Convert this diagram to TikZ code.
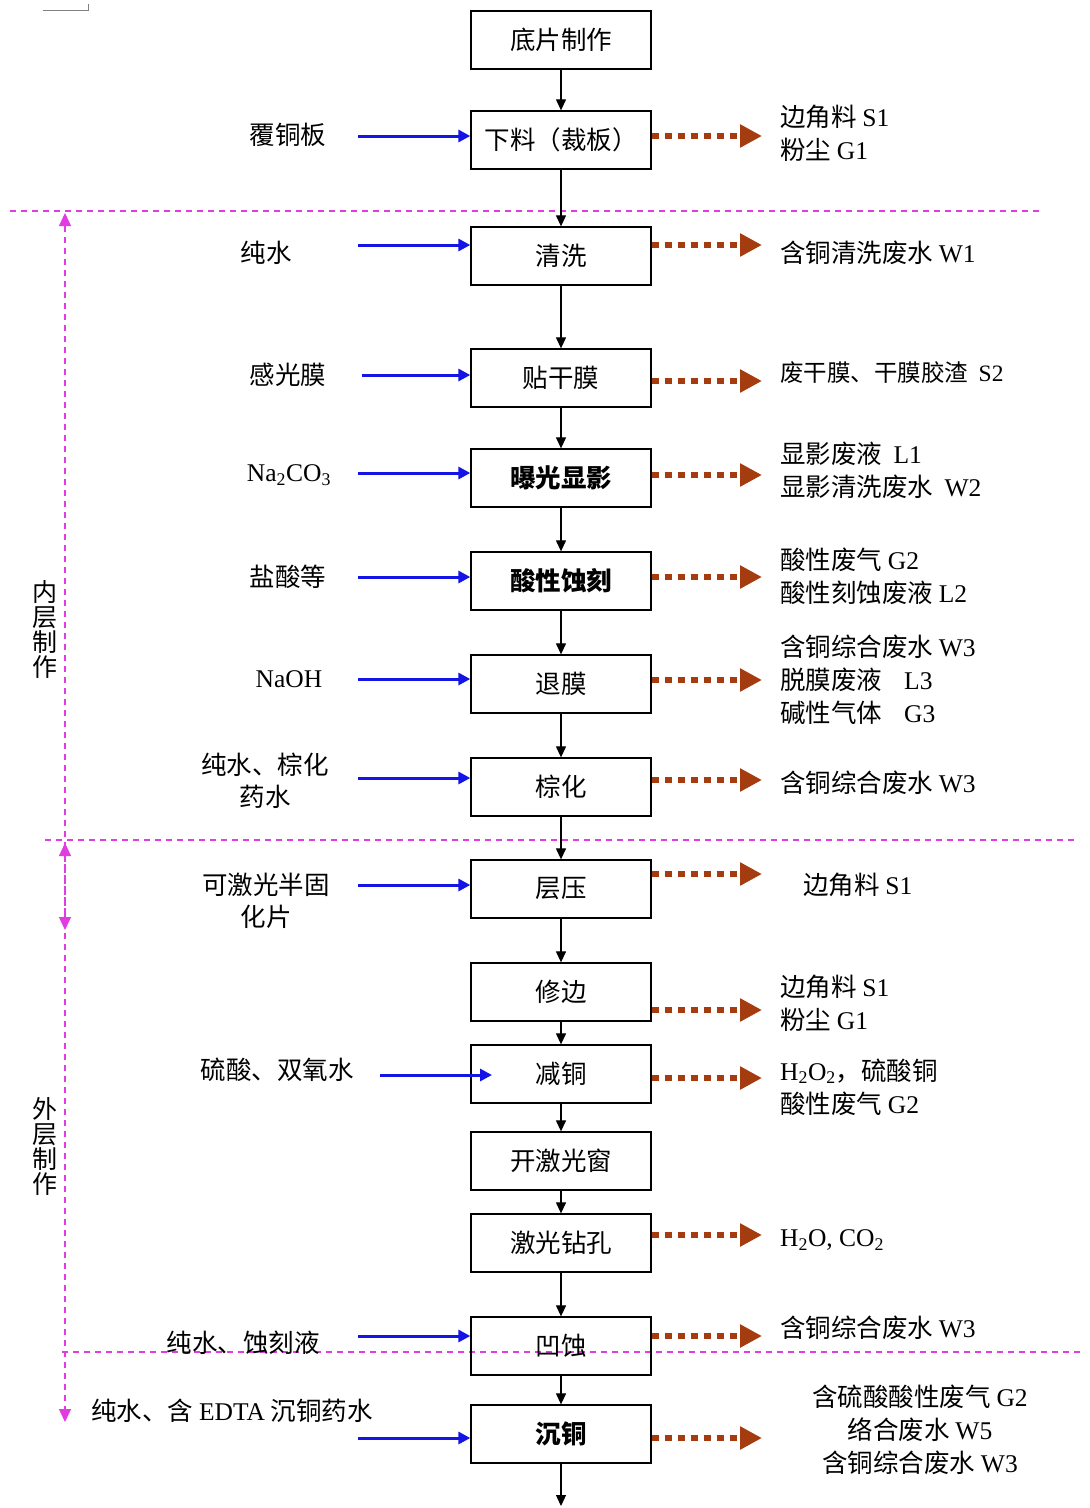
\documentclass[tikz,border=0pt]{standalone}
\usepackage{fontspec}
\setmainfont{Noto Sans CJK SC}
\newfontfamily\tnr{Liberation Serif}
\usetikzlibrary{arrows.meta}
\definecolor{inblue}{RGB}{20,20,230}
\definecolor{outbrown}{RGB}{165,60,15}
\definecolor{mag}{RGB}{225,60,225}
\newcommand\sub[1]{\textsubscript{#1}}
\begin{document}
\begin{tikzpicture}[x=1pt,y=-1pt,
  proc/.style={draw=black, line width=1.3pt, minimum width=180pt, minimum height=58pt, inner sep=0, font=\fontsize{25.5}{28}\selectfont},
  bproc/.style={proc, font=\fontsize{25.5}{28}\selectfont\bfseries},
  lab/.style={font=\fontsize{25.5}{33}\selectfont, align=left, inner sep=0, anchor=west},
  clab/.style={font=\fontsize{25.5}{33}\selectfont, align=center, inner sep=0},
  inlab/.style={font=\fontsize{25.5}{32}\selectfont, align=center, inner sep=0},
  vlab/.style={font=\fontsize{25}{25}\selectfont, align=center, inner sep=0},
  flow/.style={-{Triangle[length=11pt,width=10pt]}, line width=1.2pt},
  inarr/.style={-{Triangle[length=12pt,width=12pt]}, inblue, line width=3pt},
  outarr/.style={-{Triangle[length=22pt,width=22pt]}, outbrown, line width=6.5pt, dash pattern=on 7pt off 6pt},
  sep/.style={mag, line width=1.2pt, dash pattern=on 6pt off 5pt},
  vsep/.style={sep, {Triangle[length=13pt,width=12pt]}-{Triangle[length=13pt,width=12pt]}},
]
\useasboundingbox (0,0) rectangle (1090,1508);

% top-left mark
\draw[gray, line width=0.8pt] (43,10) -- (88,10) -- (88,4);

% separators
\coordinate (s1a) at (10,211);  \coordinate (s1b) at (1040,211);
\coordinate (s2a) at (45,840);  \coordinate (s2b) at (1075,840);
\coordinate (s3a) at (62,1352); \coordinate (s3b) at (1085,1352);
\draw[sep] (s1a) -- (s1b);
\draw[sep] (s2a) -- (s2b);
\draw[sep] (s3a) -- (s3b);
\coordinate (v1a) at (65,213);  \coordinate (v1b) at (65,930);
\coordinate (v2a) at (65,843);  \coordinate (v2b) at (65,1422);
\draw[vsep] (v1a) -- (v1b);
\draw[vsep] (v2a) -- (v2b);
\node[vlab] (inner) at (45,629) {内\\层\\制\\作};
\node[vlab] (outer) at (45,1146) {外\\层\\制\\作};

% process boxes
\node[proc]  (b1)  at (561,40)   {底片制作};
\node[proc]  (b2)  at (561,140)  {下料（裁板）};
\node[proc]  (b3)  at (561,256)  {清洗};
\node[proc]  (b4)  at (561,378)  {贴干膜};
\node[bproc] (b5)  at (561,478)  {曝光显影};
\node[bproc] (b6)  at (561,581)  {酸性蚀刻};
\node[proc]  (b7)  at (561,684)  {退膜};
\node[proc]  (b8)  at (561,787)  {棕化};
\node[proc]  (b9)  at (561,889)  {层压};
\node[proc]  (b10) at (561,992)  {修边};
\node[proc]  (b11) at (561,1074) {减铜};
\node[proc]  (b12) at (561,1161) {开激光窗};
\node[proc]  (b13) at (561,1243) {激光钻孔};
\node[proc]  (b14) at (561,1346) {凹蚀};
\node[bproc] (b15) at (561,1434) {沉铜};
\coordinate (end) at (561,1506);

\foreach \a/\b in {b1/b2,b2/b3,b3/b4,b4/b5,b5/b6,b6/b7,b7/b8,b8/b9,b9/b10,b10/b11,b11/b12,b12/b13,b13/b14,b14/b15}
  \draw[flow] (\a.south) -- (\b.north);
\draw[flow] (b15.south) -- (end);

% inputs
\node[inlab] (l2)  at (288,135)  {覆铜板};
\node[inlab] (l3)  at (266,253)  {纯水};
\node[inlab] (l4)  at (288,375)  {感光膜};
\node[inlab] (l5)  at (289,475)  {\tnr Na\sub{2}CO\sub{3}};
\node[inlab] (l6)  at (288,577)  {盐酸等};
\node[inlab] (l7)  at (289,679)  {\tnr NaOH};
\node[inlab] (l8)  at (265,781)  {纯水、棕化\\药水};
\node[inlab] (l9)  at (266,901)  {可激光半固\\化片};
\node[inlab] (l11) at (277,1070) {硫酸、双氧水};
\node[inlab] (l14) at (243,1343) {纯水、蚀刻液};
\node[inlab] (l15) at (232,1411) {纯水、含 {\tnr EDTA} 沉铜药水};

\coordinate (i2)  at (358,136);
\coordinate (i3)  at (358,245);
\coordinate (i4)  at (362,375);
\coordinate (i5)  at (358,473);
\coordinate (i6)  at (358,577);
\coordinate (i7)  at (358,679);
\coordinate (i8)  at (358,778);
\coordinate (i9)  at (358,885);
\coordinate (i11) at (380,1075);
\coordinate (i11e) at (492,1075);
\coordinate (i14) at (358,1336);
\coordinate (i15) at (358,1438);
\draw[inarr] (i2) -- (b2.west |- i2);
\draw[inarr] (i3) -- (b3.west |- i3);
\draw[inarr] (i4) -- (b4.west |- i4);
\draw[inarr] (i5) -- (b5.west |- i5);
\draw[inarr] (i6) -- (b6.west |- i6);
\draw[inarr] (i7) -- (b7.west |- i7);
\draw[inarr] (i8) -- (b8.west |- i8);
\draw[inarr] (i9) -- (b9.west |- i9);
\draw[inarr] (i11) -- (i11e);
\draw[inarr] (i14) -- (b14.west |- i14);
\draw[inarr] (i15) -- (b15.west |- i15);

% outputs
\coordinate (o2)  at (762,136);
\coordinate (o3)  at (762,245);
\coordinate (o4)  at (762,381);
\coordinate (o5)  at (762,475);
\coordinate (o6)  at (762,577);
\coordinate (o7)  at (762,680);
\coordinate (o8)  at (762,780);
\coordinate (o9)  at (762,874);
\coordinate (o10) at (762,1010);
\coordinate (o11) at (762,1078);
\coordinate (o13) at (762,1235);
\coordinate (o14) at (762,1336);
\coordinate (o15) at (762,1438);
\foreach \b/\o in {b2/o2,b3/o3,b4/o4,b5/o5,b6/o6,b7/o7,b8/o8,b9/o9,b10/o10,b11/o11,b13/o13,b14/o14,b15/o15}
  \draw[outarr] (\b.east |- \o) -- (\o);

\node[lab] (r2)  at (780,133)  {边角料 {\tnr S1}\\粉尘 {\tnr G1}};
\node[lab] (r3)  at (780,253)  {含铜清洗废水 {\tnr W1}};
\node[lab, font=\fontsize{23.5}{30}\selectfont] (r4)  at (780,373)  {废干膜、干膜胶渣\ \ {\tnr S2}};
\node[lab] (r5)  at (780,470)  {显影废液\ \ {\tnr L1}\\显影清洗废水\ \ {\tnr W2}};
\node[lab] (r6)  at (780,576)  {酸性废气 {\tnr G2}\\酸性刻蚀废液 {\tnr L2}};
\node[lab] (r7)  at (780,680)  {含铜综合废水 {\tnr W3}\\脱膜废液\hspace{22pt}{\tnr L3}\\碱性气体\hspace{22pt}{\tnr G3}};
\node[lab] (r8)  at (780,783)  {含铜综合废水 {\tnr W3}};
\node[lab] (r9)  at (803,885)  {边角料 {\tnr S1}};
\node[lab] (r10) at (780,1003) {边角料 {\tnr S1}\\粉尘 {\tnr G1}};
\node[lab] (r11) at (780,1087) {{\tnr H\sub{2}O\sub{2}}，硫酸铜\\酸性废气 {\tnr G2}};
\node[lab] (r13) at (780,1240) {\tnr H\sub{2}O, CO\sub{2}};
\node[lab] (r14) at (780,1328) {含铜综合废水 {\tnr W3}};
\node[clab] (r15) at (920,1430) {含硫酸酸性废气 {\tnr G2}\\络合废水 {\tnr W5}\\含铜综合废水 {\tnr W3}};
\end{tikzpicture}
\end{document}
